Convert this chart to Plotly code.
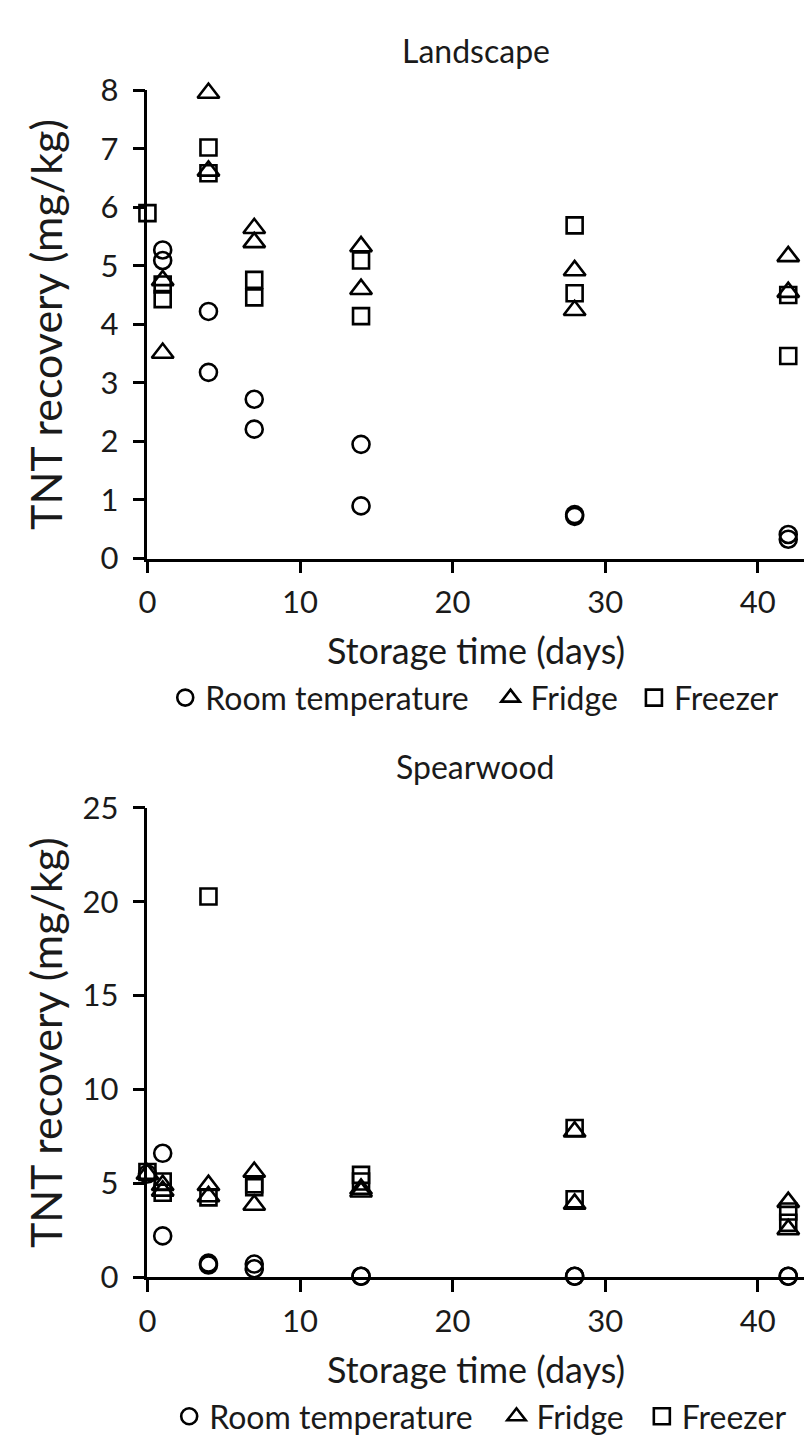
import plotly.graph_objects as go

# ---------------- data ----------------
L_room_x = [1, 1, 4, 4, 7, 7, 14, 14, 28, 28, 42, 42]
L_room_y = [5.27, 5.09, 4.22, 3.18, 2.72, 2.21, 1.95, 0.90, 0.75, 0.72, 0.41, 0.33]
L_fridge_x = [1, 1, 4, 4, 7, 7, 14, 14, 28, 28, 42, 42]
L_fridge_y = [4.75, 3.51, 7.95, 6.62, 5.64, 5.40, 5.33, 4.60, 4.92, 4.24, 5.16, 4.55]
L_freezer_x = [0, 1, 1, 4, 4, 7, 7, 14, 14, 28, 28, 42, 42]
L_freezer_y = [5.90, 4.68, 4.43, 7.02, 6.58, 4.76, 4.46, 5.09, 4.14, 5.69, 4.53, 4.50, 3.46]

S_room_x = [0, 1, 1, 4, 4, 7, 7, 14, 14, 28, 28, 42, 42]
S_room_y = [5.5, 6.6, 2.2, 0.75, 0.65, 0.7, 0.45, 0.05, 0.05, 0.05, 0.05, 0.05, 0.05]
S_fridge_x = [0, 1, 1, 4, 4, 7, 7, 14, 14, 28, 28, 42, 42]
S_fridge_y = [5.5, 4.9, 4.6, 4.9, 4.3, 5.6, 3.85, 4.7, 4.55, 7.75, 3.9, 4.0, 2.55]
S_freezer_x = [0, 1, 1, 4, 4, 7, 7, 14, 14, 28, 28, 42, 42]
S_freezer_y = [5.6, 5.1, 4.5, 20.28, 4.25, 4.95, 4.8, 5.45, 5.1, 7.95, 4.15, 3.5, 2.9]

series_names = ["Room temperature", "Fridge", "Freezer"]
panel_titles = ["Landscape", "Spearwood"]
x_title = "Storage time (days)"
y_title = "TNT recovery (mg/kg)"
x_ticks = [0, 10, 20, 30, 40]
top_y_ticks = [0, 1, 2, 3, 4, 5, 6, 7, 8]
bottom_y_ticks = [0, 5, 10, 15, 20, 25]

# ---------------- styling ----------------
W, H = 804, 1452
FONT = "Lato, 'Open Sans', sans-serif"
TXT = "#1a1a1a"
symbols = ["circle-open", "triangle-up-open", "square-open"]
sizes = [17, 19, 16]
LW = 2.6

def py(px):
    return 1 - px / H

def pxx(px):
    return px / W

# panel geometry in px (top, bottom of plot area)
panel_px = [(72, 553), (809, 1291)]
plot_left = 140
x_center_px = (plot_left + W) / 2

# legend item symbol centres (px) for each panel, and legend row centre (px)
legend_sym_x = [[178, 507, 652], [182, 513, 660]]
legend_row_y = [696, 1434]
xtitle_y = [647, 1385]
ptitle_y = [31, 767]
ytitle_x = 37

fig = go.Figure()

panels = [
    ("x", "y", [(L_room_x, L_room_y), (L_fridge_x, L_fridge_y), (L_freezer_x, L_freezer_y)]),
    ("x2", "y2", [(S_room_x, S_room_y), (S_fridge_x, S_fridge_y), (S_freezer_x, S_freezer_y)]),
]
legend_layout = {}
n = 0
for p, (xa, ya, data) in enumerate(panels):
    for i, (xs, ys) in enumerate(data):
        n += 1
        lg = "legend" if n == 1 else f"legend{n}"
        fig.add_trace(go.Scatter(
            x=xs, y=ys, mode="markers", name=series_names[i],
            xaxis=xa, yaxis=ya, legend=lg, cliponaxis=False,
            marker=dict(symbol=symbols[i], size=sizes[i], color="black",
                        line=dict(width=LW, color="black")),
        ))
        legend_layout[lg] = dict(
            orientation="h", x=pxx(legend_sym_x[p][i] - 20), xanchor="left",
            y=py(legend_row_y[p]), yanchor="middle",
            font=dict(family=FONT, size=32, color=TXT), bgcolor="rgba(0,0,0,0)",
            borderwidth=0, itemwidth=30,
        )

x_range = [0, (W - plot_left) / 15.43]

axis_common = dict(
    showline=True, linecolor="black", linewidth=2.5,
    ticks="outside", ticklen=12, tickwidth=2.5, tickcolor="black",
    showgrid=False, zeroline=False,
    tickfont=dict(family=FONT, size=31, color=TXT),
)

fig.update_layout(
    width=W, height=H,
    margin=dict(l=0, r=0, t=0, b=0),
    paper_bgcolor="white", plot_bgcolor="white",
    font=dict(family=FONT, color=TXT),
    xaxis=dict(domain=[pxx(plot_left), 1], range=x_range, tickvals=x_ticks, anchor="y",
               ticklabelstandoff=3, **axis_common),
    yaxis=dict(domain=[py(panel_px[0][1]), py(panel_px[0][0])], range=[0, 8],
               tickvals=top_y_ticks, anchor="x", ticklabelstandoff=8, **axis_common),
    xaxis2=dict(domain=[pxx(plot_left), 1], range=x_range, tickvals=x_ticks, anchor="y2",
                ticklabelstandoff=3, **axis_common),
    yaxis2=dict(domain=[py(panel_px[1][1]), py(panel_px[1][0])], range=[0, 25],
                tickvals=bottom_y_ticks, anchor="x2", ticklabelstandoff=8, **axis_common),
    showlegend=True,
    **legend_layout,
)

for p in range(2):
    top, bot = panel_px[p]
    # panel title
    fig.add_annotation(text=panel_titles[p], xref="paper", yref="paper",
                       x=pxx(x_center_px), y=py(ptitle_y[p]),
                       xanchor="center", yanchor="middle", showarrow=False,
                       font=dict(family=FONT, size=32, color=TXT))
    # x-axis title
    fig.add_annotation(text=x_title, xref="paper", yref="paper",
                       x=pxx(x_center_px), y=py(xtitle_y[p]),
                       xanchor="center", yanchor="middle", showarrow=False,
                       font=dict(family=FONT, size=36, color=TXT))
    # y-axis title
    fig.add_annotation(text=y_title, xref="paper", yref="paper", textangle=-90,
                       x=pxx(ytitle_x), y=py((top + bot) / 2),
                       xanchor="center", yanchor="middle", showarrow=False,
                       font=dict(family=FONT, size=43, color=TXT))

fig.write_html("out.html")
